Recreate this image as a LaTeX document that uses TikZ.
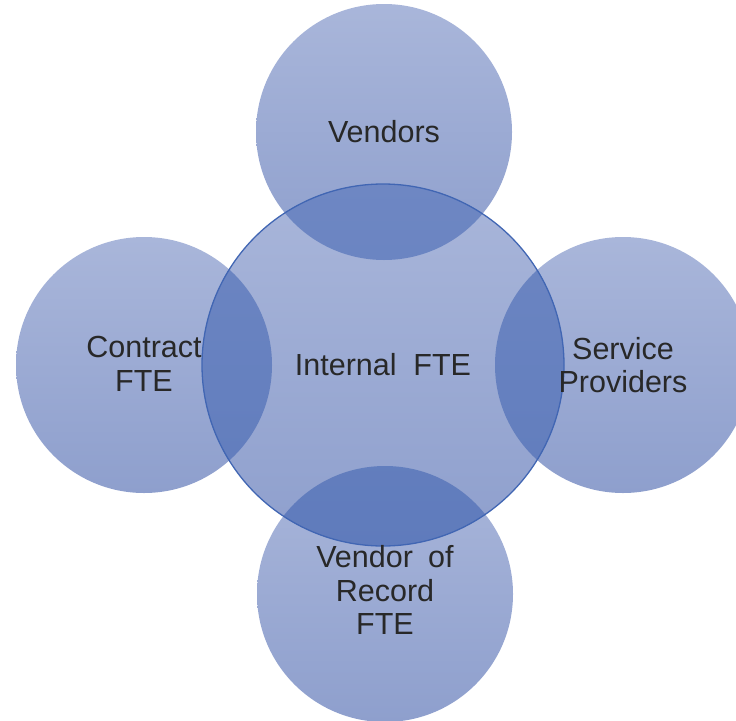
\documentclass[tikz,border=0pt]{standalone}
\usepackage{fontspec}
\setmainfont{Liberation Sans}
\definecolor{discTop}{HTML}{A9B6DA}
\definecolor{discBot}{HTML}{8E9FCD}
\definecolor{lensTop}{HTML}{6E87C3}
\definecolor{lensBot}{HTML}{5F7BBC}
\definecolor{rimBlue}{HTML}{4166B3}
\definecolor{inkGray}{HTML}{282828}
\begin{document}
\begin{tikzpicture}[x=1pt,y=-1pt,
  disc/.style={circle,inner sep=0pt,minimum size=256pt,
    top color=discTop,bottom color=discBot,draw=none},
  coredisc/.style={circle,inner sep=0pt,minimum size=362pt,
    top color=discTop,bottom color=discBot,draw=none},
  caption/.style={align=center,text=inkGray,
    font=\fontsize{30.5}{33.5}\selectfont}]
\useasboundingbox (0,0) rectangle (736,720);
\clip (0,0) rectangle (736,720);

% outer discs
\node[disc] (vendors)  at (384,132) {};
\node[disc] (contract) at (144,365) {};
\node[disc] (service)  at (623,365) {};
\node[disc] (record)   at (385,594) {};
% central disc
\node[coredisc] (core) at (383,365) {};

% darker lenses where the central disc meets each outer disc
\foreach \d in {vendors,contract,service,record}{
  \begin{scope}
    \clip (\d.center) circle[radius=128pt];
    \shade[top color=lensTop,bottom color=lensBot] (core.center) circle[radius=181pt];
  \end{scope}
}
% outline of the central disc
\draw[rimBlue,line width=1.3pt] (core.center) circle[radius=181pt];

% labels
\node[caption] (tVendors)  at (vendors.center)  {Vendors};
\node[caption] (tContract) at (144,364) {Contract\\FTE};
\node[caption] (tService)  at (service.center)  {Service\\Providers};
\node[caption] (tRecord)   at (385,590) {Vendor\hspace{0.5em}of\\Record\\FTE};
\node[caption] (tCore)     at (core.center)     {Internal\hspace{0.55em}FTE};
\end{tikzpicture}
\end{document}
